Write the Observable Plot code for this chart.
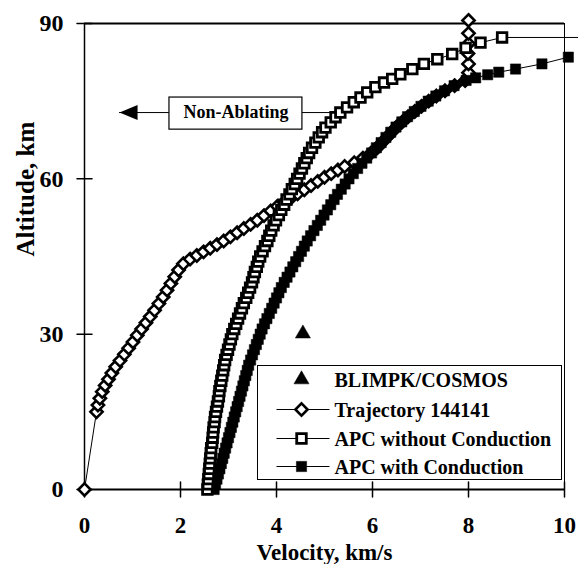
<!DOCTYPE html>
<html><head><meta charset="utf-8">
<script src="https://cdn.jsdelivr.net/npm/d3@7"></script>
<script src="https://cdn.jsdelivr.net/npm/@observablehq/plot@0.6"></script>
<style>
html,body{margin:0;padding:0;background:#fff;font-family:"Liberation Serif","DejaVu Serif",serif;}
#wrap{position:relative;width:578px;height:564px;overflow:hidden;}
#legend{position:absolute;left:257px;top:365px;width:303px;height:113px;border:1.5px solid #000;background:#fff;}
#legend svg{display:block;}
</style></head><body><div id="wrap"><div id="chart"></div><div id="legend"></div></div>
<script>
// ---- axis ticks ----
const xTicks = [0, 2, 4, 6, 8, 10];
const yTicks = [0, 30, 60, 90];

// ---- Trajectory 144141 (open diamonds) ----
const trajVel = [0, 0.25, 0.28, 0.32, 0.37, 0.43, 0.50, 0.57, 0.65, 0.74, 0.83, 0.92, 1.01, 1.10, 1.19, 1.28, 1.37, 1.46, 1.55, 1.64, 1.72, 1.80, 1.88, 1.96, 2.06, 2.20, 2.34, 2.48, 2.62, 2.76, 2.90, 3.04, 3.18, 3.32, 3.46, 3.60, 3.74, 3.88, 4.02, 4.16, 4.30, 4.44, 4.58, 4.72, 4.86, 5.00, 5.14, 5.28, 5.42, 5.62, 5.80, 5.97, 6.10, 6.20, 6.30, 6.40, 6.50, 6.62, 6.74, 6.88, 7.02, 7.17, 7.33, 7.51, 7.71, 7.93, 8.00, 8.00, 7.99, 8.00, 8.00, 8.00];
const trajAlt = [0, 15.0, 16.3, 17.6, 18.9, 20.1, 21.3, 22.5, 23.7, 24.9, 26.1, 27.3, 28.5, 29.8, 31.0, 32.2, 33.4, 34.6, 35.9, 37.2, 38.5, 39.8, 41.1, 42.4, 43.6, 44.5, 45.2, 45.9, 46.6, 47.3, 48.0, 48.8, 49.6, 50.4, 51.2, 52.0, 52.9, 53.8, 54.7, 55.5, 56.3, 57.1, 57.9, 58.7, 59.5, 60.3, 61.0, 61.7, 62.4, 63.1, 64.0, 65.0, 66.0, 67.0, 68.0, 69.0, 70.0, 71.0, 72.0, 73.0, 74.0, 75.0, 76.0, 77.0, 78.0, 79.0, 80.5, 82.2, 84.2, 86.1, 88.1, 90.6];

// ---- APC without Conduction (open squares) ----
const apcNoVel = [2.56, 2.57, 2.58, 2.59, 2.60, 2.61, 2.62, 2.63, 2.64, 2.66, 2.67, 2.68, 2.69, 2.71, 2.72, 2.74, 2.76, 2.78, 2.80, 2.81, 2.83, 2.85, 2.87, 2.89, 2.91, 2.93, 2.96, 2.99, 3.02, 3.05, 3.08, 3.12, 3.16, 3.20, 3.24, 3.28, 3.32, 3.37, 3.41, 3.45, 3.49, 3.52, 3.55, 3.59, 3.62, 3.66, 3.71, 3.76, 3.81, 3.85, 3.89, 3.94, 3.99, 4.05, 4.10, 4.16, 4.21, 4.27, 4.32, 4.38, 4.43, 4.48, 4.53, 4.58, 4.63, 4.68, 4.74, 4.81, 4.88, 4.95, 5.02, 5.13, 5.23, 5.33, 5.47, 5.61, 5.75, 5.89, 6.06, 6.24, 6.41, 6.58, 6.83, 7.07, 7.35, 7.66, 7.94, 8.25, 8.70, 10.6];
const apcNoAlt = [0, 1, 2, 3, 4, 5, 6, 7, 8, 9, 10, 11, 12, 13, 14, 15, 16, 17, 18, 19, 20, 21, 22, 23, 24, 25, 26, 27, 28, 29, 30, 31, 32, 33, 34, 35, 36, 37, 38, 39, 40, 41, 42, 43, 44, 45, 46, 47, 48, 49, 50, 51, 52, 53, 54, 55, 56, 57, 58, 59, 60, 61, 62, 63, 64, 65, 66, 67, 68, 69, 69.9, 70.9, 71.9, 72.8, 73.8, 74.8, 75.7, 76.7, 77.7, 78.6, 79.3, 80.2, 81.2, 82.2, 83.1, 84.1, 85.3, 86.3, 87.3, 87.3];

// ---- APC with Conduction (filled squares) ----
const apcCondVel = [2.70, 2.73, 2.76, 2.79, 2.82, 2.85, 2.88, 2.91, 2.94, 2.97, 3.00, 3.03, 3.06, 3.09, 3.12, 3.15, 3.18, 3.21, 3.24, 3.27, 3.30, 3.33, 3.36, 3.39, 3.42, 3.46, 3.50, 3.54, 3.58, 3.62, 3.66, 3.70, 3.75, 3.80, 3.85, 3.90, 3.95, 4.00, 4.05, 4.10, 4.16, 4.22, 4.28, 4.34, 4.40, 4.46, 4.52, 4.58, 4.64, 4.71, 4.78, 4.85, 4.92, 4.99, 5.06, 5.13, 5.20, 5.27, 5.35, 5.43, 5.51, 5.60, 5.69, 5.78, 5.88, 5.98, 6.08, 6.18, 6.28, 6.38, 6.49, 6.61, 6.73, 6.87, 7.01, 7.16, 7.32, 7.50, 7.70, 7.95, 8.15, 8.40, 8.63, 8.98, 9.53, 10.08];
const apcCondAlt = [0, 1, 2, 3, 4, 5, 6, 7, 8, 9, 10, 11, 12, 13, 14, 15, 16, 17, 18, 19, 20, 21, 22, 23, 24, 25, 26, 27, 28, 29, 30, 31, 32, 33, 34, 35, 36, 37, 38, 39, 40, 41, 42, 43, 44, 45, 46, 47, 48, 49, 50, 51, 52, 53, 54, 55, 56, 57, 58, 59, 60, 61, 62, 63, 64, 65, 66, 67, 68, 69, 70, 71, 72, 73, 74, 75, 76, 77, 78, 79, 79.5, 80.1, 80.6, 81.2, 82.2, 83.5];

// ---- BLIMPK/COSMOS (filled triangle) ----
const blimpkVel = [4.55];
const blimpkAlt = [30.1];

// ---- legend / annotation text ----
const seriesNames = ["BLIMPK/COSMOS", "Trajectory 144141", "APC without Conduction", "APC with Conduction"];
const annotLabel = ["Non-Ablating"];
const annotAlt = [72.8];
const annotTipVel = [0.73];
const annotBoxVel = [1.77, 4.54];
const annotBoxAlt = [69.5, 75.7];
const annotEndVel = [5.23];

const FONT = "Liberation Serif, DejaVu Serif, serif";

const toRows = (vs, as) => vs.map((v, i) => ({v, alt: as[i]}));
const traj = toRows(trajVel, trajAlt);
const apcNo = toRows(apcNoVel, apcNoAlt);
const apcCond = toRows(apcCondVel, apcCondAlt);
const blimpk = toRows(blimpkVel, blimpkAlt);
const annot = [{
  label: annotLabel[0], alt: annotAlt[0], tip: annotTipVel[0],
  bx1: annotBoxVel[0], bx2: annotBoxVel[1], by1: annotBoxAlt[0], by2: annotBoxAlt[1],
  end: annotEndVel[0], mid: (annotBoxVel[0] + annotBoxVel[1]) / 2
}];

const tickLine = {draw(ctx, l) { ctx.moveTo(0, 0); ctx.lineTo(0, -l); }};
const arrowHead = {draw(ctx) { ctx.moveTo(0, 0); ctx.lineTo(18, -7.5); ctx.lineTo(18, 7.5); ctx.closePath(); }};

const chart = Plot.plot({
  width: 578, height: 564,
  marginLeft: 84, marginRight: 14, marginTop: 23, marginBottom: 75,
  x: {domain: [0, 10]},
  y: {domain: [0, 90]},
  style: {fontFamily: FONT, background: "white", color: "black"},
  marks: [
    Plot.ruleY([0], {stroke: "black", strokeWidth: 2}),
    Plot.ruleY([90], {stroke: "black", strokeWidth: 2}),
    Plot.ruleX([0], {stroke: "black", strokeWidth: 1.5}),
    Plot.ruleX([10], {stroke: "black", strokeWidth: 1}),
    Plot.vector(xTicks, {x: d => d, y: 0, length: 15, anchor: "middle", shape: tickLine, stroke: "black", strokeWidth: 1.5}),
    Plot.vector(yTicks, {x: 0, y: d => d, length: 15, rotate: 90, anchor: "middle", shape: tickLine, stroke: "black", strokeWidth: 1.5}),
    Plot.axisX({ticks: xTicks, tickSize: 0, tickPadding: 27.5, label: null, fontSize: 23, fontWeight: "bold", fontFamily: FONT, fill: "black"}),
    Plot.axisY({ticks: yTicks, tickSize: 0, tickPadding: 21, label: null, fontSize: 24, fontWeight: "bold", fontFamily: FONT, fill: "black"}),
    Plot.text(["Velocity, km/s"], {text: d => d, frameAnchor: "bottom", dy: 70, lineAnchor: "bottom", fontSize: 23, fontWeight: "bold", fontFamily: FONT, fill: "black"}),
    Plot.text(["Altitude, km"], {text: d => d, frameAnchor: "left", rotate: -90, dx: -51, lineAnchor: "bottom", fontSize: 25, fontWeight: "bold", fontFamily: FONT, fill: "black"}),
    Plot.line(traj, {x: "v", y: "alt", stroke: "black", strokeWidth: 1}),
    Plot.dot(traj, {x: "v", y: "alt", symbol: "diamond2", r: 5.5, fill: "white", stroke: "black", strokeWidth: 2.6}),
    Plot.line(apcCond, {x: "v", y: "alt", stroke: "black", strokeWidth: 1}),
    Plot.dot(apcCond, {x: "v", y: "alt", symbol: "square", r: 5.8, fill: "black", stroke: "black", strokeWidth: 0.5}),
    Plot.line(apcNo, {x: "v", y: "alt", stroke: "black", strokeWidth: 1}),
    Plot.dot(apcNo, {x: "v", y: "alt", symbol: "square", r: 5.4, fill: "white", stroke: "black", strokeWidth: 2.8}),
    Plot.dot(blimpk, {x: "v", y: "alt", symbol: "triangle", r: 5.6, fill: "black", stroke: "black", strokeWidth: 0.5}),
    Plot.ruleY(annot, {y: "alt", x1: "tip", x2: "bx1", stroke: "black", strokeWidth: 1}),
    Plot.ruleY(annot, {y: "alt", x1: "bx2", x2: "end", stroke: "black", strokeWidth: 1}),
    Plot.dot(annot, {x: "tip", y: "alt", symbol: arrowHead, fill: "black", stroke: "none"}),
    Plot.rect(annot, {x1: "bx1", x2: "bx2", y1: "by1", y2: "by2", fill: "white", stroke: "black", strokeWidth: 1.2}),
    Plot.text(annot, {x: "mid", y: "alt", text: "label", fontSize: 18, fontWeight: "bold", fontFamily: FONT, fill: "black"})
  ]
});
document.getElementById("chart").appendChild(chart);

// ---- legend (inside the plot area, as in the reference) ----
const lg = d3.select("#legend").append("svg").attr("width", 303).attr("height", 113);
const rowY = [13.5, 43.5, 72.5, 100.5];
const symArea = r => Math.PI * r * r;
const legendSym = [
  {type: d3.symbolTriangle, r: 5.6, fill: "black", sw: 0.5, line: false},
  {type: d3.symbolDiamond2, r: 5.5, fill: "white", sw: 2.6, line: true},
  {type: d3.symbolSquare, r: 5.4, fill: "white", sw: 2.8, line: true},
  {type: d3.symbolSquare, r: 5.8, fill: "black", sw: 0.5, line: true}
];
seriesNames.forEach((name, i) => {
  const g = lg.append("g").attr("transform", `translate(0,${rowY[i]})`);
  const s = legendSym[i];
  if (s.line) g.append("line").attr("x1", 18.5).attr("x2", 71.5).attr("stroke", "black").attr("stroke-width", 1.2);
  g.append("path").attr("transform", "translate(43.5,0)")
    .attr("d", d3.symbol(s.type, symArea(s.r))())
    .attr("fill", s.fill).attr("stroke", "black").attr("stroke-width", s.sw);
  g.append("text").attr("x", 76.5).attr("dy", "0.35em")
    .attr("font-family", FONT).attr("font-size", 20).attr("font-weight", "bold")
    .attr("fill", "black").text(name);
});
</script>
</body></html>
